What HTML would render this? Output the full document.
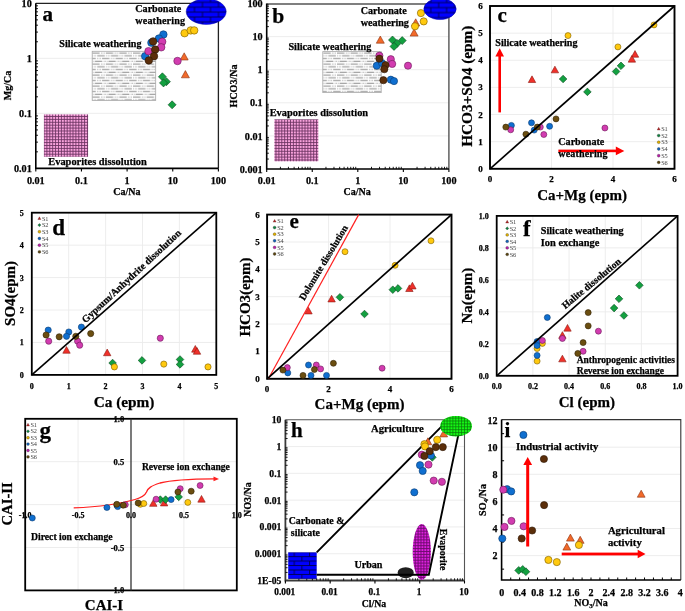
<!DOCTYPE html>
<html><head><meta charset="utf-8"><style>
html,body{margin:0;padding:0;background:#fff;}
text{stroke:#000;stroke-width:0.25px;}
svg{display:block;will-change:transform;font-family:"Liberation Serif",serif;font-weight:bold;}
</style></head><body>
<svg width="685" height="611" viewBox="0 0 685 611">

<defs>
<pattern id="pk" width="2.9" height="2.9" patternUnits="userSpaceOnUse">
 <rect width="2.9" height="2.9" fill="#f8a2dc"/>
 <rect x="0" y="0" width="2.9" height="0.85" fill="#6a3260"/>
 <rect x="0" y="0" width="0.85" height="2.9" fill="#6a3260"/>
</pattern>
<pattern id="pk2" width="2.9" height="2.9" patternUnits="userSpaceOnUse">
 <rect width="2.9" height="2.9" fill="#e020e0"/>
 <rect x="0" y="0" width="2.9" height="0.9" fill="#6a0a6a"/>
 <rect x="0" y="0" width="0.9" height="2.9" fill="#6a0a6a"/>
</pattern>
<pattern id="gn" width="2.9" height="2.9" patternUnits="userSpaceOnUse">
 <rect width="2.9" height="2.9" fill="#14f814"/>
 <rect x="0" y="0" width="2.9" height="0.75" fill="#0a7a0a"/>
 <rect x="0" y="0" width="0.75" height="2.9" fill="#0a7a0a"/>
</pattern>
<pattern id="br" x="194.5" y="7.2" width="32.00" height="9.80" patternUnits="userSpaceOnUse">
 <rect width="32.00" height="9.80" fill="#0000ff"/>
 <path d="M0 0H32.00M0 4.90H32.00M0 9.80H32.00M0 0V4.90M16.00 0V4.90M32.00 0V4.90M8.00 4.90V9.80M24.00 4.90V9.80" stroke="#00004a" stroke-width="0.9" fill="none"/>
</pattern>
<pattern id="br2" x="438.7" y="2.6" width="31.60" height="10.00" patternUnits="userSpaceOnUse">
 <rect width="31.60" height="10.00" fill="#0000ff"/>
 <path d="M0 0H31.60M0 5.00H31.60M0 10.00H31.60M0 0V5.00M15.80 0V5.00M31.60 0V5.00M7.90 5.00V10.00M23.70 5.00V10.00" stroke="#00004a" stroke-width="0.9" fill="none"/>
</pattern>
<pattern id="br3" x="294.3" y="552.2" width="30.60" height="8.90" patternUnits="userSpaceOnUse">
 <rect width="30.60" height="8.90" fill="#0000ff"/>
 <path d="M0 0H30.60M0 4.45H30.60M0 8.90H30.60M0 0V4.45M15.30 0V4.45M30.60 0V4.45M7.65 4.45V8.90M22.95 4.45V8.90" stroke="#00004a" stroke-width="0.9" fill="none"/>
</pattern>
<pattern id="dt" x="92.2" y="51.8" width="13.6" height="11.0" patternUnits="userSpaceOnUse">
 <rect width="13.6" height="11.0" fill="#fff"/>
 <path d="M0.00 1.20H7.40" stroke="#8c8c8c" stroke-width="1.0"/>
 <path d="M8.80 1.20H9.50" stroke="#8c8c8c" stroke-width="0.9"/>
 <path d="M10.30 1.20H11.00" stroke="#8c8c8c" stroke-width="0.9"/>
 <path d="M11.80 1.20H12.50" stroke="#8c8c8c" stroke-width="0.9"/>
 <path d="M5.10 3.95H12.50" stroke="#8c8c8c" stroke-width="1.0"/>
 <path d="M0.30 3.95H1.00" stroke="#8c8c8c" stroke-width="0.9"/>
 <path d="M1.80 3.95H2.50" stroke="#8c8c8c" stroke-width="0.9"/>
 <path d="M3.30 3.95H4.00" stroke="#8c8c8c" stroke-width="0.9"/>
 <path d="M9.80 6.70H13.60" stroke="#8c8c8c" stroke-width="1.0"/>
 <path d="M0.00 6.70H3.60" stroke="#8c8c8c" stroke-width="1.0"/>
 <path d="M5.00 6.70H5.70" stroke="#8c8c8c" stroke-width="0.9"/>
 <path d="M6.50 6.70H7.20" stroke="#8c8c8c" stroke-width="0.9"/>
 <path d="M8.00 6.70H8.70" stroke="#8c8c8c" stroke-width="0.9"/>
 <path d="M2.60 9.45H10.00" stroke="#8c8c8c" stroke-width="1.0"/>
 <path d="M11.40 9.45H12.10" stroke="#8c8c8c" stroke-width="0.9"/>
 <path d="M12.90 9.45H13.60" stroke="#8c8c8c" stroke-width="0.9"/>
 <path d="M0.00 9.45H0.00" stroke="#8c8c8c" stroke-width="0.9"/>
 <path d="M0.80 9.45H1.50" stroke="#8c8c8c" stroke-width="0.9"/>
</pattern>
</defs>

<rect width="685" height="611" fill="#fff"/>
<line x1="35.8" y1="58.33" x2="218.4" y2="58.33" stroke="#ebebeb" stroke-width="0.9"/>
<line x1="35.8" y1="113.37" x2="218.4" y2="113.37" stroke="#ebebeb" stroke-width="0.9"/>
<rect x="43.9" y="114.4" width="44.2" height="42.4" fill="url(#pk)" stroke="none" stroke-width="1"/>
<rect x="92.2" y="51.3" width="63.5" height="49.2" fill="url(#dt)" stroke="#a8a8a8" stroke-width="0.8"/>
<path d="M35.8 3.3H218.4V168.4" fill="none" stroke="#222" stroke-width="1.3"/>
<path d="M35.8 3.3V168.4H218.4" fill="none" stroke="#000" stroke-width="1.6"/>
<line x1="35.8" y1="151.83" x2="38" y2="151.83" stroke="#000" stroke-width="0.9"/>
<line x1="35.8" y1="142.14" x2="38" y2="142.14" stroke="#000" stroke-width="0.9"/>
<line x1="35.8" y1="135.27" x2="38" y2="135.27" stroke="#000" stroke-width="0.9"/>
<line x1="35.8" y1="129.93" x2="38" y2="129.93" stroke="#000" stroke-width="0.9"/>
<line x1="35.8" y1="125.58" x2="38" y2="125.58" stroke="#000" stroke-width="0.9"/>
<line x1="35.8" y1="121.89" x2="38" y2="121.89" stroke="#000" stroke-width="0.9"/>
<line x1="35.8" y1="118.7" x2="38" y2="118.7" stroke="#000" stroke-width="0.9"/>
<line x1="35.8" y1="115.88" x2="38" y2="115.88" stroke="#000" stroke-width="0.9"/>
<line x1="35.8" y1="96.8" x2="38" y2="96.8" stroke="#000" stroke-width="0.9"/>
<line x1="35.8" y1="87.11" x2="38" y2="87.11" stroke="#000" stroke-width="0.9"/>
<line x1="35.8" y1="80.23" x2="38" y2="80.23" stroke="#000" stroke-width="0.9"/>
<line x1="35.8" y1="74.9" x2="38" y2="74.9" stroke="#000" stroke-width="0.9"/>
<line x1="35.8" y1="70.54" x2="38" y2="70.54" stroke="#000" stroke-width="0.9"/>
<line x1="35.8" y1="66.86" x2="38" y2="66.86" stroke="#000" stroke-width="0.9"/>
<line x1="35.8" y1="63.67" x2="38" y2="63.67" stroke="#000" stroke-width="0.9"/>
<line x1="35.8" y1="60.85" x2="38" y2="60.85" stroke="#000" stroke-width="0.9"/>
<line x1="35.8" y1="41.77" x2="38" y2="41.77" stroke="#000" stroke-width="0.9"/>
<line x1="35.8" y1="32.08" x2="38" y2="32.08" stroke="#000" stroke-width="0.9"/>
<line x1="35.8" y1="25.2" x2="38" y2="25.2" stroke="#000" stroke-width="0.9"/>
<line x1="35.8" y1="19.87" x2="38" y2="19.87" stroke="#000" stroke-width="0.9"/>
<line x1="35.8" y1="15.51" x2="38" y2="15.51" stroke="#000" stroke-width="0.9"/>
<line x1="35.8" y1="11.82" x2="38" y2="11.82" stroke="#000" stroke-width="0.9"/>
<line x1="35.8" y1="8.63" x2="38" y2="8.63" stroke="#000" stroke-width="0.9"/>
<line x1="35.8" y1="5.82" x2="38" y2="5.82" stroke="#000" stroke-width="0.9"/>
<line x1="35.8" y1="168.4" x2="35.8" y2="171.4" stroke="#000" stroke-width="1.1"/>
<line x1="81.45" y1="168.4" x2="81.45" y2="171.4" stroke="#000" stroke-width="1.1"/>
<line x1="127.1" y1="168.4" x2="127.1" y2="171.4" stroke="#000" stroke-width="1.1"/>
<line x1="172.75" y1="168.4" x2="172.75" y2="171.4" stroke="#000" stroke-width="1.1"/>
<line x1="218.4" y1="168.4" x2="218.4" y2="171.4" stroke="#000" stroke-width="1.1"/>
<ellipse cx="206.2" cy="11.6" rx="20" ry="12.8" fill="url(#br)" stroke="#0000b0" stroke-width="0.5"/>
<text x="31.8" y="6.9" font-size="10.2" text-anchor="end">10</text>
<text x="31.8" y="61.93" font-size="10.2" text-anchor="end">1</text>
<text x="31.8" y="116.97" font-size="10.2" text-anchor="end">0.1</text>
<text x="31.8" y="172" font-size="10.2" text-anchor="end">0.01</text>
<text x="35.8" y="183.8" font-size="10.2" text-anchor="middle">0.01</text>
<text x="81.45" y="183.8" font-size="10.2" text-anchor="middle">0.1</text>
<text x="127.1" y="183.8" font-size="10.2" text-anchor="middle">1</text>
<text x="172.75" y="183.8" font-size="10.2" text-anchor="middle">10</text>
<text x="218.4" y="183.8" font-size="10.2" text-anchor="middle">100</text>
<text x="10.9" y="85.5" font-size="10" text-anchor="middle" transform="rotate(-90 10.9 85.5)">Mg/Ca</text>
<text x="126.8" y="195" font-size="10" text-anchor="middle">Ca/Na</text>
<text x="42.6" y="20.8" font-size="21">a</text>
<text x="135.3" y="12.4" font-size="10.1">Carbonate</text>
<text x="135.3" y="24.1" font-size="10.1" letter-spacing="0.17">weathering</text>
<text x="59.3" y="47.1" font-size="10.1">Silicate weathering</text>
<text x="48.3" y="165" font-size="10.4">Evaporites dissolution</text>
<path d="M184.2 52.8L188.2 60L180.2 60Z" fill="#f26a2a" stroke="#8a3010" stroke-width="0.6"/>
<path d="M185.4 70.6L189.4 77.8L181.4 77.8Z" fill="#f26a2a" stroke="#8a3010" stroke-width="0.6"/>
<path d="M162.4 72.8L166.4 76.8L162.4 80.8L158.4 76.8Z" fill="#13a040" stroke="#0a4a20" stroke-width="0.6"/>
<path d="M166.4 77.7L170.4 81.7L166.4 85.7L162.4 81.7Z" fill="#13a040" stroke="#0a4a20" stroke-width="0.6"/>
<path d="M163.5 78.9L167.5 82.9L163.5 86.9L159.5 82.9Z" fill="#13a040" stroke="#0a4a20" stroke-width="0.6"/>
<path d="M172.1 100.8L176.1 104.8L172.1 108.8L168.1 104.8Z" fill="#13a040" stroke="#0a4a20" stroke-width="0.6"/>
<circle cx="184.6" cy="33.2" r="3.75" fill="#ffc90e" stroke="#7a5a00" stroke-width="0.6"/>
<circle cx="190.7" cy="30.4" r="3.75" fill="#ffc90e" stroke="#7a5a00" stroke-width="0.6"/>
<circle cx="194.2" cy="30.4" r="3.75" fill="#ffc90e" stroke="#7a5a00" stroke-width="0.6"/>
<circle cx="163.4" cy="34.5" r="3.75" fill="#0f6fd0" stroke="#0a3a70" stroke-width="0.6"/>
<circle cx="158.9" cy="38.5" r="3.75" fill="#0f6fd0" stroke="#0a3a70" stroke-width="0.6"/>
<circle cx="151.4" cy="42.7" r="3.75" fill="#0f6fd0" stroke="#0a3a70" stroke-width="0.6"/>
<circle cx="145.2" cy="56.2" r="3.75" fill="#0f6fd0" stroke="#0a3a70" stroke-width="0.6"/>
<circle cx="162.2" cy="41.7" r="3.75" fill="#d23cb0" stroke="#6a1a58" stroke-width="0.6"/>
<circle cx="161.2" cy="47.3" r="3.75" fill="#d23cb0" stroke="#6a1a58" stroke-width="0.6"/>
<circle cx="148.5" cy="51.2" r="3.75" fill="#d23cb0" stroke="#6a1a58" stroke-width="0.6"/>
<circle cx="177.5" cy="61" r="3.75" fill="#d23cb0" stroke="#6a1a58" stroke-width="0.6"/>
<circle cx="153.1" cy="41.4" r="3.75" fill="#5b2e0a" stroke="#2a1505" stroke-width="0.6"/>
<circle cx="155.2" cy="49.6" r="3.75" fill="#5b2e0a" stroke="#2a1505" stroke-width="0.6"/>
<circle cx="154" cy="56.2" r="3.75" fill="#5b2e0a" stroke="#2a1505" stroke-width="0.6"/>
<circle cx="148.8" cy="60.4" r="3.75" fill="#5b2e0a" stroke="#2a1505" stroke-width="0.6"/>
<line x1="266.7" y1="36.6" x2="448.9" y2="36.6" stroke="#ebebeb" stroke-width="0.9"/>
<line x1="266.7" y1="69.7" x2="448.9" y2="69.7" stroke="#ebebeb" stroke-width="0.9"/>
<line x1="266.7" y1="102.8" x2="448.9" y2="102.8" stroke="#ebebeb" stroke-width="0.9"/>
<line x1="266.7" y1="135.9" x2="448.9" y2="135.9" stroke="#ebebeb" stroke-width="0.9"/>
<rect x="274.4" y="119.3" width="43.9" height="42" fill="url(#pk)" stroke="none" stroke-width="1"/>
<rect x="322.8" y="51.6" width="58.4" height="41" fill="url(#dt)" stroke="#a8a8a8" stroke-width="0.8"/>
<path d="M266.7 4H448.9V169.0" fill="none" stroke="#555" stroke-width="1.4"/>
<path d="M266.7 3.5V169.0H448.9" fill="none" stroke="#000" stroke-width="1.6"/>
<line x1="266.7" y1="159.04" x2="268.9" y2="159.04" stroke="#000" stroke-width="0.9"/>
<line x1="266.7" y1="153.21" x2="268.9" y2="153.21" stroke="#000" stroke-width="0.9"/>
<line x1="266.7" y1="149.07" x2="268.9" y2="149.07" stroke="#000" stroke-width="0.9"/>
<line x1="266.7" y1="145.86" x2="268.9" y2="145.86" stroke="#000" stroke-width="0.9"/>
<line x1="266.7" y1="143.24" x2="268.9" y2="143.24" stroke="#000" stroke-width="0.9"/>
<line x1="266.7" y1="141.03" x2="268.9" y2="141.03" stroke="#000" stroke-width="0.9"/>
<line x1="266.7" y1="139.11" x2="268.9" y2="139.11" stroke="#000" stroke-width="0.9"/>
<line x1="266.7" y1="137.41" x2="268.9" y2="137.41" stroke="#000" stroke-width="0.9"/>
<line x1="266.7" y1="125.94" x2="268.9" y2="125.94" stroke="#000" stroke-width="0.9"/>
<line x1="266.7" y1="120.11" x2="268.9" y2="120.11" stroke="#000" stroke-width="0.9"/>
<line x1="266.7" y1="115.97" x2="268.9" y2="115.97" stroke="#000" stroke-width="0.9"/>
<line x1="266.7" y1="112.76" x2="268.9" y2="112.76" stroke="#000" stroke-width="0.9"/>
<line x1="266.7" y1="110.14" x2="268.9" y2="110.14" stroke="#000" stroke-width="0.9"/>
<line x1="266.7" y1="107.93" x2="268.9" y2="107.93" stroke="#000" stroke-width="0.9"/>
<line x1="266.7" y1="106.01" x2="268.9" y2="106.01" stroke="#000" stroke-width="0.9"/>
<line x1="266.7" y1="104.31" x2="268.9" y2="104.31" stroke="#000" stroke-width="0.9"/>
<line x1="266.7" y1="92.84" x2="268.9" y2="92.84" stroke="#000" stroke-width="0.9"/>
<line x1="266.7" y1="87.01" x2="268.9" y2="87.01" stroke="#000" stroke-width="0.9"/>
<line x1="266.7" y1="82.87" x2="268.9" y2="82.87" stroke="#000" stroke-width="0.9"/>
<line x1="266.7" y1="79.66" x2="268.9" y2="79.66" stroke="#000" stroke-width="0.9"/>
<line x1="266.7" y1="77.04" x2="268.9" y2="77.04" stroke="#000" stroke-width="0.9"/>
<line x1="266.7" y1="74.83" x2="268.9" y2="74.83" stroke="#000" stroke-width="0.9"/>
<line x1="266.7" y1="72.91" x2="268.9" y2="72.91" stroke="#000" stroke-width="0.9"/>
<line x1="266.7" y1="71.21" x2="268.9" y2="71.21" stroke="#000" stroke-width="0.9"/>
<line x1="266.7" y1="59.74" x2="268.9" y2="59.74" stroke="#000" stroke-width="0.9"/>
<line x1="266.7" y1="53.91" x2="268.9" y2="53.91" stroke="#000" stroke-width="0.9"/>
<line x1="266.7" y1="49.77" x2="268.9" y2="49.77" stroke="#000" stroke-width="0.9"/>
<line x1="266.7" y1="46.56" x2="268.9" y2="46.56" stroke="#000" stroke-width="0.9"/>
<line x1="266.7" y1="43.94" x2="268.9" y2="43.94" stroke="#000" stroke-width="0.9"/>
<line x1="266.7" y1="41.73" x2="268.9" y2="41.73" stroke="#000" stroke-width="0.9"/>
<line x1="266.7" y1="39.81" x2="268.9" y2="39.81" stroke="#000" stroke-width="0.9"/>
<line x1="266.7" y1="38.11" x2="268.9" y2="38.11" stroke="#000" stroke-width="0.9"/>
<line x1="266.7" y1="26.64" x2="268.9" y2="26.64" stroke="#000" stroke-width="0.9"/>
<line x1="266.7" y1="20.81" x2="268.9" y2="20.81" stroke="#000" stroke-width="0.9"/>
<line x1="266.7" y1="16.67" x2="268.9" y2="16.67" stroke="#000" stroke-width="0.9"/>
<line x1="266.7" y1="13.46" x2="268.9" y2="13.46" stroke="#000" stroke-width="0.9"/>
<line x1="266.7" y1="10.84" x2="268.9" y2="10.84" stroke="#000" stroke-width="0.9"/>
<line x1="266.7" y1="8.63" x2="268.9" y2="8.63" stroke="#000" stroke-width="0.9"/>
<line x1="266.7" y1="6.71" x2="268.9" y2="6.71" stroke="#000" stroke-width="0.9"/>
<line x1="266.7" y1="5.01" x2="268.9" y2="5.01" stroke="#000" stroke-width="0.9"/>
<line x1="280.41" y1="169" x2="280.41" y2="166.8" stroke="#000" stroke-width="0.9"/>
<line x1="288.43" y1="169" x2="288.43" y2="166.8" stroke="#000" stroke-width="0.9"/>
<line x1="294.12" y1="169" x2="294.12" y2="166.8" stroke="#000" stroke-width="0.9"/>
<line x1="298.54" y1="169" x2="298.54" y2="166.8" stroke="#000" stroke-width="0.9"/>
<line x1="302.14" y1="169" x2="302.14" y2="166.8" stroke="#000" stroke-width="0.9"/>
<line x1="305.19" y1="169" x2="305.19" y2="166.8" stroke="#000" stroke-width="0.9"/>
<line x1="307.84" y1="169" x2="307.84" y2="166.8" stroke="#000" stroke-width="0.9"/>
<line x1="310.17" y1="169" x2="310.17" y2="166.8" stroke="#000" stroke-width="0.9"/>
<line x1="325.96" y1="169" x2="325.96" y2="166.8" stroke="#000" stroke-width="0.9"/>
<line x1="333.98" y1="169" x2="333.98" y2="166.8" stroke="#000" stroke-width="0.9"/>
<line x1="339.67" y1="169" x2="339.67" y2="166.8" stroke="#000" stroke-width="0.9"/>
<line x1="344.09" y1="169" x2="344.09" y2="166.8" stroke="#000" stroke-width="0.9"/>
<line x1="347.69" y1="169" x2="347.69" y2="166.8" stroke="#000" stroke-width="0.9"/>
<line x1="350.74" y1="169" x2="350.74" y2="166.8" stroke="#000" stroke-width="0.9"/>
<line x1="353.39" y1="169" x2="353.39" y2="166.8" stroke="#000" stroke-width="0.9"/>
<line x1="355.72" y1="169" x2="355.72" y2="166.8" stroke="#000" stroke-width="0.9"/>
<line x1="371.51" y1="169" x2="371.51" y2="166.8" stroke="#000" stroke-width="0.9"/>
<line x1="379.53" y1="169" x2="379.53" y2="166.8" stroke="#000" stroke-width="0.9"/>
<line x1="385.22" y1="169" x2="385.22" y2="166.8" stroke="#000" stroke-width="0.9"/>
<line x1="389.64" y1="169" x2="389.64" y2="166.8" stroke="#000" stroke-width="0.9"/>
<line x1="393.24" y1="169" x2="393.24" y2="166.8" stroke="#000" stroke-width="0.9"/>
<line x1="396.29" y1="169" x2="396.29" y2="166.8" stroke="#000" stroke-width="0.9"/>
<line x1="398.94" y1="169" x2="398.94" y2="166.8" stroke="#000" stroke-width="0.9"/>
<line x1="401.27" y1="169" x2="401.27" y2="166.8" stroke="#000" stroke-width="0.9"/>
<line x1="417.06" y1="169" x2="417.06" y2="166.8" stroke="#000" stroke-width="0.9"/>
<line x1="425.08" y1="169" x2="425.08" y2="166.8" stroke="#000" stroke-width="0.9"/>
<line x1="430.77" y1="169" x2="430.77" y2="166.8" stroke="#000" stroke-width="0.9"/>
<line x1="435.19" y1="169" x2="435.19" y2="166.8" stroke="#000" stroke-width="0.9"/>
<line x1="438.79" y1="169" x2="438.79" y2="166.8" stroke="#000" stroke-width="0.9"/>
<line x1="441.84" y1="169" x2="441.84" y2="166.8" stroke="#000" stroke-width="0.9"/>
<line x1="444.49" y1="169" x2="444.49" y2="166.8" stroke="#000" stroke-width="0.9"/>
<line x1="446.82" y1="169" x2="446.82" y2="166.8" stroke="#000" stroke-width="0.9"/>
<line x1="266.7" y1="169" x2="266.7" y2="172" stroke="#000" stroke-width="1.1"/>
<line x1="312.25" y1="169" x2="312.25" y2="172" stroke="#000" stroke-width="1.1"/>
<line x1="357.8" y1="169" x2="357.8" y2="172" stroke="#000" stroke-width="1.1"/>
<line x1="403.35" y1="169" x2="403.35" y2="172" stroke="#000" stroke-width="1.1"/>
<line x1="448.9" y1="169" x2="448.9" y2="172" stroke="#000" stroke-width="1.1"/>
<text x="262.7" y="7.1" font-size="10.2" text-anchor="end">100</text>
<text x="262.7" y="40.2" font-size="10.2" text-anchor="end">10</text>
<text x="262.7" y="73.3" font-size="10.2" text-anchor="end">1</text>
<text x="262.7" y="106.4" font-size="10.2" text-anchor="end">0.1</text>
<text x="262.7" y="139.5" font-size="10.2" text-anchor="end">0.01</text>
<text x="262.7" y="172.6" font-size="10.2" text-anchor="end">0.001</text>
<text x="266.7" y="183.8" font-size="10.2" text-anchor="middle">0.01</text>
<text x="312.25" y="183.8" font-size="10.2" text-anchor="middle">0.1</text>
<text x="357.8" y="183.8" font-size="10.2" text-anchor="middle">1</text>
<text x="403.35" y="183.8" font-size="10.2" text-anchor="middle">10</text>
<text x="448.9" y="183.8" font-size="10.2" text-anchor="middle">100</text>
<text x="236.5" y="86" font-size="10" text-anchor="middle" transform="rotate(-90 236.5 86)">HCO3/Na</text>
<text x="357.2" y="195.2" font-size="10" text-anchor="middle">Ca/Na</text>
<text x="272.2" y="22.5" font-size="21.6">b</text>
<text x="360.7" y="13.7" font-size="10.1">Carbonate</text>
<text x="360.7" y="26.3" font-size="10.1">weathering</text>
<text x="288.4" y="49.7" font-size="10.2">Silicate weathering</text>
<text x="269.7" y="115.8" font-size="10.4">Evaporites dissolution</text>
<path d="M415.7 18.8L419.7 26L411.7 26Z" fill="#f26a2a" stroke="#8a3010" stroke-width="0.6"/>
<path d="M414.1 28.9L418.1 36.1L410.1 36.1Z" fill="#f26a2a" stroke="#8a3010" stroke-width="0.6"/>
<path d="M380.3 36L384.3 43.2L376.3 43.2Z" fill="#f26a2a" stroke="#8a3010" stroke-width="0.6"/>
<path d="M392.5 36L396.5 40L392.5 44L388.5 40Z" fill="#13a040" stroke="#0a4a20" stroke-width="0.6"/>
<path d="M402.2 36.6L406.2 40.6L402.2 44.6L398.2 40.6Z" fill="#13a040" stroke="#0a4a20" stroke-width="0.6"/>
<path d="M397 39.4L401 43.4L397 47.4L393 43.4Z" fill="#13a040" stroke="#0a4a20" stroke-width="0.6"/>
<path d="M394 42.4L398 46.4L394 50.4L390 46.4Z" fill="#13a040" stroke="#0a4a20" stroke-width="0.6"/>
<circle cx="420.9" cy="13.1" r="3.6" fill="#ffc90e" stroke="#7a5a00" stroke-width="0.6"/>
<circle cx="423.7" cy="21.4" r="3.6" fill="#ffc90e" stroke="#7a5a00" stroke-width="0.6"/>
<circle cx="415" cy="26.3" r="3.6" fill="#ffc90e" stroke="#7a5a00" stroke-width="0.6"/>
<circle cx="376.8" cy="65.7" r="3.6" fill="#0f6fd0" stroke="#0a3a70" stroke-width="0.6"/>
<circle cx="382" cy="63" r="3.6" fill="#0f6fd0" stroke="#0a3a70" stroke-width="0.6"/>
<circle cx="390.8" cy="79.7" r="3.6" fill="#0f6fd0" stroke="#0a3a70" stroke-width="0.6"/>
<circle cx="394" cy="81.1" r="3.6" fill="#0f6fd0" stroke="#0a3a70" stroke-width="0.6"/>
<circle cx="379.4" cy="55.7" r="3.6" fill="#d23cb0" stroke="#6a1a58" stroke-width="0.6"/>
<circle cx="390.8" cy="59.2" r="3.6" fill="#d23cb0" stroke="#6a1a58" stroke-width="0.6"/>
<circle cx="392.2" cy="63.9" r="3.6" fill="#d23cb0" stroke="#6a1a58" stroke-width="0.6"/>
<circle cx="408" cy="65.7" r="3.6" fill="#d23cb0" stroke="#6a1a58" stroke-width="0.6"/>
<circle cx="379.4" cy="58.7" r="3.6" fill="#5b2e0a" stroke="#2a1505" stroke-width="0.6"/>
<circle cx="385.5" cy="65.1" r="3.6" fill="#5b2e0a" stroke="#2a1505" stroke-width="0.6"/>
<circle cx="384.3" cy="69.2" r="3.6" fill="#5b2e0a" stroke="#2a1505" stroke-width="0.6"/>
<circle cx="383.4" cy="80.2" r="3.6" fill="#5b2e0a" stroke="#2a1505" stroke-width="0.6"/>
<ellipse cx="440" cy="9" rx="16.2" ry="10.6" fill="url(#br2)" stroke="#0000b0" stroke-width="0.5"/>
<line x1="490" y1="141.67" x2="674.5" y2="141.67" stroke="#ebebeb" stroke-width="0.9"/>
<line x1="490" y1="114.53" x2="674.5" y2="114.53" stroke="#ebebeb" stroke-width="0.9"/>
<line x1="490" y1="87.4" x2="674.5" y2="87.4" stroke="#ebebeb" stroke-width="0.9"/>
<line x1="490" y1="60.27" x2="674.5" y2="60.27" stroke="#ebebeb" stroke-width="0.9"/>
<line x1="490" y1="33.13" x2="674.5" y2="33.13" stroke="#ebebeb" stroke-width="0.9"/>
<line x1="551.5" y1="6" x2="551.5" y2="168.8" stroke="#ebebeb" stroke-width="0.9"/>
<line x1="613" y1="6" x2="613" y2="168.8" stroke="#ebebeb" stroke-width="0.9"/>
<rect x="490" y="6" width="184.5" height="162.8" fill="none" stroke="#000" stroke-width="1.9"/>
<text x="480.4" y="171.8" font-size="9" text-anchor="middle">0</text>
<text x="480.4" y="144.67" font-size="9" text-anchor="middle">1</text>
<text x="480.4" y="117.53" font-size="9" text-anchor="middle">2</text>
<text x="480.4" y="90.4" font-size="9" text-anchor="middle">3</text>
<text x="480.4" y="63.27" font-size="9" text-anchor="middle">4</text>
<text x="480.4" y="36.13" font-size="9" text-anchor="middle">5</text>
<text x="480.4" y="9" font-size="9" text-anchor="middle">6</text>
<text x="490" y="182" font-size="9" text-anchor="middle">0</text>
<text x="551.5" y="182" font-size="9" text-anchor="middle">2</text>
<text x="613" y="182" font-size="9" text-anchor="middle">4</text>
<text x="674.5" y="182" font-size="9" text-anchor="middle">6</text>
<rect x="498.4" y="56" width="2.6" height="56.4" fill="#ff0000" stroke="none" stroke-width="1"/>
<path d="M499.7 48.2L504 56.4L495.4 56.4Z" fill="#ff0000"/>
<rect x="558.4" y="149.6" width="57.8" height="2.6" fill="#ff0000" stroke="none" stroke-width="1"/>
<path d="M624.3 150.9L615.8 146.4L615.8 155.2Z" fill="#ff0000"/>
<text x="471.9" y="86.2" font-size="15.3" text-anchor="middle" transform="rotate(-90 471.9 86.2)">HCO3+SO4 (epm)</text>
<text x="582.1" y="199.8" font-size="15" text-anchor="middle">Ca+Mg (epm)</text>
<text x="497.6" y="21.9" font-size="21">c</text>
<text x="495.3" y="45.9" font-size="10.1">Silicate weathering</text>
<text x="558.3" y="144.7" font-size="10.1">Carbonate</text>
<text x="558.3" y="156.6" font-size="10.1" letter-spacing="0.12">weathering</text>
<path d="M532 75.87L535.7 82.53L528.3 82.53Z" fill="#f0302a" stroke="#8a1a10" stroke-width="0.6"/>
<path d="M554.9 66.17L558.6 72.83L551.2 72.83Z" fill="#f0302a" stroke="#8a1a10" stroke-width="0.6"/>
<path d="M635 50.57L638.7 57.23L631.3 57.23Z" fill="#f0302a" stroke="#8a1a10" stroke-width="0.6"/>
<path d="M631.9 55.47L635.6 62.13L628.2 62.13Z" fill="#f0302a" stroke="#8a1a10" stroke-width="0.6"/>
<path d="M563.1 75.2L566.9 79L563.1 82.8L559.3 79Z" fill="#13a040" stroke="#0a4a20" stroke-width="0.6"/>
<path d="M621 62L624.8 65.8L621 69.6L617.2 65.8Z" fill="#13a040" stroke="#0a4a20" stroke-width="0.6"/>
<path d="M616.1 67.7L619.9 71.5L616.1 75.3L612.3 71.5Z" fill="#13a040" stroke="#0a4a20" stroke-width="0.6"/>
<path d="M587.4 88.1L591.2 91.9L587.4 95.7L583.6 91.9Z" fill="#13a040" stroke="#0a4a20" stroke-width="0.6"/>
<circle cx="568" cy="35.6" r="3" fill="#ffc90e" stroke="#7a5a00" stroke-width="0.6"/>
<circle cx="654" cy="24.9" r="3" fill="#ffc90e" stroke="#7a5a00" stroke-width="0.6"/>
<circle cx="617.9" cy="46.9" r="3" fill="#ffc90e" stroke="#7a5a00" stroke-width="0.6"/>
<circle cx="511.4" cy="125.4" r="3" fill="#0f6fd0" stroke="#0a3a70" stroke-width="0.6"/>
<circle cx="531.5" cy="122.8" r="3" fill="#0f6fd0" stroke="#0a3a70" stroke-width="0.6"/>
<circle cx="534.2" cy="130.1" r="3" fill="#0f6fd0" stroke="#0a3a70" stroke-width="0.6"/>
<circle cx="549.6" cy="126.3" r="3" fill="#0f6fd0" stroke="#0a3a70" stroke-width="0.6"/>
<circle cx="510.7" cy="129.8" r="3" fill="#d23cb0" stroke="#6a1a58" stroke-width="0.6"/>
<circle cx="540.3" cy="127.1" r="3" fill="#d23cb0" stroke="#6a1a58" stroke-width="0.6"/>
<circle cx="543.8" cy="134.5" r="3" fill="#d23cb0" stroke="#6a1a58" stroke-width="0.6"/>
<circle cx="604.9" cy="128" r="3" fill="#d23cb0" stroke="#6a1a58" stroke-width="0.6"/>
<circle cx="505.8" cy="127.1" r="3" fill="#6b4e10" stroke="#302205" stroke-width="0.6"/>
<circle cx="525.9" cy="134.2" r="3" fill="#6b4e10" stroke="#302205" stroke-width="0.6"/>
<circle cx="537.3" cy="127.1" r="3" fill="#6b4e10" stroke="#302205" stroke-width="0.6"/>
<circle cx="556" cy="118.9" r="3" fill="#6b4e10" stroke="#302205" stroke-width="0.6"/>
<line x1="490" y1="168.8" x2="674.5" y2="6" stroke="#000" stroke-width="1.7"/>
<path d="M658.7 127.3L660.2 130L657.2 130Z" fill="#b02828" stroke="#5a1010" stroke-width="0.3"/>
<text x="661.3" y="131" font-size="6.3" font-weight="normal" fill="#404040" style="stroke:none" letter-spacing="-0.3">S1</text>
<circle cx="658.7" cy="135.6" r="1.45" fill="#118040" stroke="#333" stroke-width="0.3"/>
<text x="661.3" y="137.7" font-size="6.3" font-weight="normal" fill="#404040" style="stroke:none" letter-spacing="-0.3">S2</text>
<circle cx="658.7" cy="142.3" r="1.45" fill="#e0b000" stroke="#333" stroke-width="0.3"/>
<text x="661.3" y="144.4" font-size="6.3" font-weight="normal" fill="#404040" style="stroke:none" letter-spacing="-0.3">S3</text>
<circle cx="658.7" cy="149" r="1.45" fill="#1060b8" stroke="#333" stroke-width="0.3"/>
<text x="661.3" y="151.1" font-size="6.3" font-weight="normal" fill="#404040" style="stroke:none" letter-spacing="-0.3">S4</text>
<circle cx="658.7" cy="155.7" r="1.45" fill="#b820a8" stroke="#333" stroke-width="0.3"/>
<text x="661.3" y="157.8" font-size="6.3" font-weight="normal" fill="#404040" style="stroke:none" letter-spacing="-0.3">S5</text>
<circle cx="658.7" cy="162.4" r="1.45" fill="#5a4410" stroke="#333" stroke-width="0.3"/>
<text x="661.3" y="164.5" font-size="6.3" font-weight="normal" fill="#404040" style="stroke:none" letter-spacing="-0.3">S6</text>
<line x1="31.8" y1="342.46" x2="216.3" y2="342.46" stroke="#ebebeb" stroke-width="0.9"/>
<line x1="68.7" y1="212.7" x2="68.7" y2="374.9" stroke="#ebebeb" stroke-width="0.9"/>
<line x1="31.8" y1="310.02" x2="216.3" y2="310.02" stroke="#ebebeb" stroke-width="0.9"/>
<line x1="105.6" y1="212.7" x2="105.6" y2="374.9" stroke="#ebebeb" stroke-width="0.9"/>
<line x1="31.8" y1="277.58" x2="216.3" y2="277.58" stroke="#ebebeb" stroke-width="0.9"/>
<line x1="142.5" y1="212.7" x2="142.5" y2="374.9" stroke="#ebebeb" stroke-width="0.9"/>
<line x1="31.8" y1="245.14" x2="216.3" y2="245.14" stroke="#ebebeb" stroke-width="0.9"/>
<line x1="179.4" y1="212.7" x2="179.4" y2="374.9" stroke="#ebebeb" stroke-width="0.9"/>
<rect x="31.8" y="212.7" width="184.5" height="162.2" fill="none" stroke="#000" stroke-width="1.8"/>
<text x="21.8" y="377.9" font-size="8" text-anchor="middle">0</text>
<text x="31.8" y="388.5" font-size="8" text-anchor="middle">0</text>
<text x="21.8" y="345.46" font-size="8" text-anchor="middle">1</text>
<text x="68.7" y="388.5" font-size="8" text-anchor="middle">1</text>
<text x="21.8" y="313.02" font-size="8" text-anchor="middle">2</text>
<text x="105.6" y="388.5" font-size="8" text-anchor="middle">2</text>
<text x="21.8" y="280.58" font-size="8" text-anchor="middle">3</text>
<text x="142.5" y="388.5" font-size="8" text-anchor="middle">3</text>
<text x="21.8" y="248.14" font-size="8" text-anchor="middle">4</text>
<text x="179.4" y="388.5" font-size="8" text-anchor="middle">4</text>
<text x="21.8" y="215.7" font-size="8" text-anchor="middle">5</text>
<text x="216.3" y="388.5" font-size="8" text-anchor="middle">5</text>
<text x="15" y="293.4" font-size="15" text-anchor="middle" transform="rotate(-90 15 293.4)">SO4(epm)</text>
<text x="124" y="406.8" font-size="15.3" text-anchor="middle">Ca (epm)</text>
<text x="52.3" y="234.7" font-size="23">d</text>
<path d="M66.5 346.57L70.2 353.23L62.8 353.23Z" fill="#f0302a" stroke="#8a1a10" stroke-width="0.6"/>
<path d="M107.2 349.07L110.9 355.73L103.5 355.73Z" fill="#f0302a" stroke="#8a1a10" stroke-width="0.6"/>
<path d="M195.3 345.47L199 352.13L191.6 352.13Z" fill="#f0302a" stroke="#8a1a10" stroke-width="0.6"/>
<path d="M197 347.57L200.7 354.23L193.3 354.23Z" fill="#f0302a" stroke="#8a1a10" stroke-width="0.6"/>
<path d="M112.6 359.2L116.4 363L112.6 366.8L108.8 363Z" fill="#13a040" stroke="#0a4a20" stroke-width="0.6"/>
<path d="M142 356.6L145.8 360.4L142 364.2L138.2 360.4Z" fill="#13a040" stroke="#0a4a20" stroke-width="0.6"/>
<path d="M180 355.7L183.8 359.5L180 363.3L176.2 359.5Z" fill="#13a040" stroke="#0a4a20" stroke-width="0.6"/>
<path d="M180 360.6L183.8 364.4L180 368.2L176.2 364.4Z" fill="#13a040" stroke="#0a4a20" stroke-width="0.6"/>
<circle cx="114.4" cy="366.9" r="3.1" fill="#ffc90e" stroke="#7a5a00" stroke-width="0.6"/>
<circle cx="163.8" cy="364.1" r="3.1" fill="#ffc90e" stroke="#7a5a00" stroke-width="0.6"/>
<circle cx="208" cy="366.9" r="3.1" fill="#ffc90e" stroke="#7a5a00" stroke-width="0.6"/>
<circle cx="48.2" cy="330.1" r="3.1" fill="#0f6fd0" stroke="#0a3a70" stroke-width="0.6"/>
<circle cx="68.8" cy="332" r="3.1" fill="#0f6fd0" stroke="#0a3a70" stroke-width="0.6"/>
<circle cx="66.5" cy="336.3" r="3.1" fill="#0f6fd0" stroke="#0a3a70" stroke-width="0.6"/>
<circle cx="81.4" cy="327.1" r="3.1" fill="#0f6fd0" stroke="#0a3a70" stroke-width="0.6"/>
<circle cx="48.7" cy="341.2" r="3.1" fill="#d23cb0" stroke="#6a1a58" stroke-width="0.6"/>
<circle cx="77.6" cy="341.2" r="3.1" fill="#d23cb0" stroke="#6a1a58" stroke-width="0.6"/>
<circle cx="79.7" cy="345.2" r="3.1" fill="#d23cb0" stroke="#6a1a58" stroke-width="0.6"/>
<circle cx="160.3" cy="338.2" r="3.1" fill="#d23cb0" stroke="#6a1a58" stroke-width="0.6"/>
<circle cx="46.1" cy="335" r="3.1" fill="#6b4e10" stroke="#302205" stroke-width="0.6"/>
<circle cx="59.2" cy="336.8" r="3.1" fill="#6b4e10" stroke="#302205" stroke-width="0.6"/>
<circle cx="75.8" cy="336.3" r="3.1" fill="#6b4e10" stroke="#302205" stroke-width="0.6"/>
<circle cx="90.7" cy="333.6" r="3.1" fill="#6b4e10" stroke="#302205" stroke-width="0.6"/>
<line x1="31.8" y1="374.9" x2="216.3" y2="212.7" stroke="#000" stroke-width="1.6"/>
<text x="0" y="0" font-size="10" transform="translate(85.6 323.4) rotate(-43)">Gypsum/Anhydrite dissolution</text>
<path d="M39.4 216.8L40.9 219.5L37.9 219.5Z" fill="#b02828" stroke="#5a1010" stroke-width="0.3"/>
<text x="42" y="220.5" font-size="6.3" font-weight="normal" fill="#404040" style="stroke:none" letter-spacing="-0.3">S1</text>
<path d="M39.4 223.5L41 225.1L39.4 226.7L37.8 225.1Z" fill="#118040" stroke="#333" stroke-width="0.3"/>
<text x="42" y="227.2" font-size="6.3" font-weight="normal" fill="#404040" style="stroke:none" letter-spacing="-0.3">S2</text>
<circle cx="39.4" cy="231.8" r="1.45" fill="#e0b000" stroke="#333" stroke-width="0.3"/>
<text x="42" y="233.9" font-size="6.3" font-weight="normal" fill="#404040" style="stroke:none" letter-spacing="-0.3">S3</text>
<circle cx="39.4" cy="238.5" r="1.45" fill="#1060b8" stroke="#333" stroke-width="0.3"/>
<text x="42" y="240.6" font-size="6.3" font-weight="normal" fill="#404040" style="stroke:none" letter-spacing="-0.3">S4</text>
<circle cx="39.4" cy="245.2" r="1.45" fill="#b820a8" stroke="#333" stroke-width="0.3"/>
<text x="42" y="247.3" font-size="6.3" font-weight="normal" fill="#404040" style="stroke:none" letter-spacing="-0.3">S5</text>
<circle cx="39.4" cy="251.9" r="1.45" fill="#5a4410" stroke="#333" stroke-width="0.3"/>
<text x="42" y="254" font-size="6.3" font-weight="normal" fill="#404040" style="stroke:none" letter-spacing="-0.3">S6</text>
<line x1="267.1" y1="351.43" x2="451.5" y2="351.43" stroke="#ebebeb" stroke-width="0.9"/>
<line x1="267.1" y1="324.07" x2="451.5" y2="324.07" stroke="#ebebeb" stroke-width="0.9"/>
<line x1="267.1" y1="296.7" x2="451.5" y2="296.7" stroke="#ebebeb" stroke-width="0.9"/>
<line x1="267.1" y1="269.33" x2="451.5" y2="269.33" stroke="#ebebeb" stroke-width="0.9"/>
<line x1="267.1" y1="241.97" x2="451.5" y2="241.97" stroke="#ebebeb" stroke-width="0.9"/>
<line x1="328.57" y1="214.6" x2="328.57" y2="378.8" stroke="#ebebeb" stroke-width="0.9"/>
<line x1="390.03" y1="214.6" x2="390.03" y2="378.8" stroke="#ebebeb" stroke-width="0.9"/>
<rect x="267.1" y="214.6" width="184.4" height="164.2" fill="none" stroke="#000" stroke-width="1.9"/>
<text x="257.5" y="381.8" font-size="9" text-anchor="middle">0</text>
<text x="257.5" y="354.43" font-size="9" text-anchor="middle">1</text>
<text x="257.5" y="327.07" font-size="9" text-anchor="middle">2</text>
<text x="257.5" y="299.7" font-size="9" text-anchor="middle">3</text>
<text x="257.5" y="272.33" font-size="9" text-anchor="middle">4</text>
<text x="257.5" y="244.97" font-size="9" text-anchor="middle">5</text>
<text x="257.5" y="217.6" font-size="9" text-anchor="middle">6</text>
<text x="267.1" y="392" font-size="9" text-anchor="middle">0</text>
<text x="328.57" y="392" font-size="9" text-anchor="middle">2</text>
<text x="390.03" y="392" font-size="9" text-anchor="middle">4</text>
<text x="451.5" y="392" font-size="9" text-anchor="middle">6</text>
<text x="250.4" y="297" font-size="15" text-anchor="middle" transform="rotate(-90 250.4 297)">HCO3(epm)</text>
<text x="359.5" y="409.2" font-size="15" text-anchor="middle">Ca+Mg (epm)</text>
<text x="289.6" y="228" font-size="21">e</text>
<path d="M308.5 307.27L312.2 313.93L304.8 313.93Z" fill="#f0302a" stroke="#8a1a10" stroke-width="0.6"/>
<path d="M331.6 295.27L335.3 301.93L327.9 301.93Z" fill="#f0302a" stroke="#8a1a10" stroke-width="0.6"/>
<path d="M409.4 284.87L413.1 291.53L405.7 291.53Z" fill="#f0302a" stroke="#8a1a10" stroke-width="0.6"/>
<path d="M412.4 282.27L416.1 288.93L408.7 288.93Z" fill="#f0302a" stroke="#8a1a10" stroke-width="0.6"/>
<path d="M339.9 293.5L343.7 297.3L339.9 301.1L336.1 297.3Z" fill="#13a040" stroke="#0a4a20" stroke-width="0.6"/>
<path d="M364.5 310.2L368.3 314L364.5 317.8L360.7 314Z" fill="#13a040" stroke="#0a4a20" stroke-width="0.6"/>
<path d="M392.8 285.9L396.6 289.7L392.8 293.5L389 289.7Z" fill="#13a040" stroke="#0a4a20" stroke-width="0.6"/>
<path d="M398 284.6L401.8 288.4L398 292.2L394.2 288.4Z" fill="#13a040" stroke="#0a4a20" stroke-width="0.6"/>
<circle cx="345" cy="251.7" r="3" fill="#ffc90e" stroke="#7a5a00" stroke-width="0.6"/>
<circle cx="395.1" cy="265.3" r="3" fill="#ffc90e" stroke="#7a5a00" stroke-width="0.6"/>
<circle cx="431" cy="240.8" r="3" fill="#ffc90e" stroke="#7a5a00" stroke-width="0.6"/>
<circle cx="287.8" cy="372.9" r="3" fill="#0f6fd0" stroke="#0a3a70" stroke-width="0.6"/>
<circle cx="308.5" cy="365" r="3" fill="#0f6fd0" stroke="#0a3a70" stroke-width="0.6"/>
<circle cx="311" cy="375.4" r="3" fill="#0f6fd0" stroke="#0a3a70" stroke-width="0.6"/>
<circle cx="326.5" cy="375.4" r="3" fill="#0f6fd0" stroke="#0a3a70" stroke-width="0.6"/>
<circle cx="287.3" cy="367.6" r="3" fill="#d23cb0" stroke="#6a1a58" stroke-width="0.6"/>
<circle cx="316.3" cy="365" r="3" fill="#d23cb0" stroke="#6a1a58" stroke-width="0.6"/>
<circle cx="320.6" cy="368.9" r="3" fill="#d23cb0" stroke="#6a1a58" stroke-width="0.6"/>
<circle cx="382.1" cy="368.2" r="3" fill="#d23cb0" stroke="#6a1a58" stroke-width="0.6"/>
<circle cx="282.9" cy="370.1" r="3" fill="#6b4e10" stroke="#302205" stroke-width="0.6"/>
<circle cx="303" cy="375.4" r="3" fill="#6b4e10" stroke="#302205" stroke-width="0.6"/>
<circle cx="314.4" cy="369.5" r="3" fill="#6b4e10" stroke="#302205" stroke-width="0.6"/>
<circle cx="333.4" cy="363.3" r="3" fill="#6b4e10" stroke="#302205" stroke-width="0.6"/>
<line x1="268.4" y1="378.8" x2="358.7" y2="214.6" stroke="#ff2020" stroke-width="1.2"/>
<line x1="267.1" y1="378.8" x2="451.5" y2="214.6" stroke="#000" stroke-width="1.7"/>
<text x="0" y="0" font-size="9.8" transform="translate(304.2 301) rotate(-59)">Dolomite dissolution</text>
<path d="M274.6 219.4L276.1 222.1L273.1 222.1Z" fill="#b02828" stroke="#5a1010" stroke-width="0.3"/>
<text x="277.2" y="223.1" font-size="6.3" font-weight="normal" fill="#404040" style="stroke:none" letter-spacing="-0.3">S1</text>
<circle cx="274.6" cy="227.6" r="1.45" fill="#118040" stroke="#333" stroke-width="0.3"/>
<text x="277.2" y="229.7" font-size="6.3" font-weight="normal" fill="#404040" style="stroke:none" letter-spacing="-0.3">S2</text>
<circle cx="274.6" cy="234.2" r="1.45" fill="#e0b000" stroke="#333" stroke-width="0.3"/>
<text x="277.2" y="236.3" font-size="6.3" font-weight="normal" fill="#404040" style="stroke:none" letter-spacing="-0.3">S3</text>
<circle cx="274.6" cy="240.8" r="1.45" fill="#1060b8" stroke="#333" stroke-width="0.3"/>
<text x="277.2" y="242.9" font-size="6.3" font-weight="normal" fill="#404040" style="stroke:none" letter-spacing="-0.3">S4</text>
<circle cx="274.6" cy="247.4" r="1.45" fill="#b820a8" stroke="#333" stroke-width="0.3"/>
<text x="277.2" y="249.5" font-size="6.3" font-weight="normal" fill="#404040" style="stroke:none" letter-spacing="-0.3">S5</text>
<circle cx="274.6" cy="254" r="1.45" fill="#5a4410" stroke="#333" stroke-width="0.3"/>
<text x="277.2" y="256.1" font-size="6.3" font-weight="normal" fill="#404040" style="stroke:none" letter-spacing="-0.3">S6</text>
<line x1="496.7" y1="343.82" x2="677.6" y2="343.82" stroke="#ebebeb" stroke-width="0.9"/>
<line x1="532.88" y1="215.9" x2="532.88" y2="375.8" stroke="#ebebeb" stroke-width="0.9"/>
<line x1="496.7" y1="311.84" x2="677.6" y2="311.84" stroke="#ebebeb" stroke-width="0.9"/>
<line x1="569.06" y1="215.9" x2="569.06" y2="375.8" stroke="#ebebeb" stroke-width="0.9"/>
<line x1="496.7" y1="279.86" x2="677.6" y2="279.86" stroke="#ebebeb" stroke-width="0.9"/>
<line x1="605.24" y1="215.9" x2="605.24" y2="375.8" stroke="#ebebeb" stroke-width="0.9"/>
<line x1="496.7" y1="247.88" x2="677.6" y2="247.88" stroke="#ebebeb" stroke-width="0.9"/>
<line x1="641.42" y1="215.9" x2="641.42" y2="375.8" stroke="#ebebeb" stroke-width="0.9"/>
<rect x="496.7" y="215.9" width="180.9" height="159.9" fill="none" stroke="#000" stroke-width="1.8"/>
<text x="488.7" y="378.8" font-size="8" text-anchor="end">0.0</text>
<text x="496.7" y="389" font-size="8" text-anchor="middle">0.0</text>
<text x="488.7" y="346.82" font-size="8" text-anchor="end">0.2</text>
<text x="532.88" y="389" font-size="8" text-anchor="middle">0.2</text>
<text x="488.7" y="314.84" font-size="8" text-anchor="end">0.4</text>
<text x="569.06" y="389" font-size="8" text-anchor="middle">0.4</text>
<text x="488.7" y="282.86" font-size="8" text-anchor="end">0.6</text>
<text x="605.24" y="389" font-size="8" text-anchor="middle">0.6</text>
<text x="488.7" y="250.88" font-size="8" text-anchor="end">0.8</text>
<text x="641.42" y="389" font-size="8" text-anchor="middle">0.8</text>
<text x="488.7" y="218.9" font-size="8" text-anchor="end">1.0</text>
<text x="677.6" y="389" font-size="8" text-anchor="middle">1.0</text>
<text x="472.5" y="295.6" font-size="15" text-anchor="middle" transform="rotate(-90 472.5 295.6)">Na(epm)</text>
<text x="586.9" y="407" font-size="15" text-anchor="middle">Cl (epm)</text>
<text x="522.9" y="235.9" font-size="23">f</text>
<text x="540.8" y="233.9" font-size="10.2">Silicate weathering</text>
<text x="540.8" y="246.3" font-size="10.4">Ion exchange</text>
<text x="576.8" y="362.6" font-size="9.45">Anthropogenic activities</text>
<text x="576.8" y="373.5" font-size="9.5">Reverse ion exchange</text>
<path d="M567.5 324.47L571.2 331.13L563.8 331.13Z" fill="#f0302a" stroke="#8a1a10" stroke-width="0.6"/>
<path d="M562.4 331.67L566.1 338.33L558.7 338.33Z" fill="#f0302a" stroke="#8a1a10" stroke-width="0.6"/>
<path d="M562.4 355.17L566.1 361.83L558.7 361.83Z" fill="#f0302a" stroke="#8a1a10" stroke-width="0.6"/>
<path d="M619 295L622.8 298.8L619 302.6L615.2 298.8Z" fill="#13a040" stroke="#0a4a20" stroke-width="0.6"/>
<path d="M614.1 304.3L617.9 308.1L614.1 311.9L610.3 308.1Z" fill="#13a040" stroke="#0a4a20" stroke-width="0.6"/>
<path d="M623.9 311.7L627.7 315.5L623.9 319.3L620.1 315.5Z" fill="#13a040" stroke="#0a4a20" stroke-width="0.6"/>
<path d="M639.4 281.5L643.2 285.3L639.4 289.1L635.6 285.3Z" fill="#13a040" stroke="#0a4a20" stroke-width="0.6"/>
<circle cx="537.1" cy="348.5" r="3" fill="#ffc90e" stroke="#7a5a00" stroke-width="0.6"/>
<circle cx="542.4" cy="343.4" r="3" fill="#ffc90e" stroke="#7a5a00" stroke-width="0.6"/>
<circle cx="537.1" cy="361.1" r="3" fill="#ffc90e" stroke="#7a5a00" stroke-width="0.6"/>
<circle cx="547.3" cy="317.5" r="3" fill="#0f6fd0" stroke="#0a3a70" stroke-width="0.6"/>
<circle cx="537.1" cy="341.5" r="3" fill="#0f6fd0" stroke="#0a3a70" stroke-width="0.6"/>
<circle cx="537.1" cy="345.6" r="3" fill="#0f6fd0" stroke="#0a3a70" stroke-width="0.6"/>
<circle cx="537.1" cy="355.4" r="3" fill="#0f6fd0" stroke="#0a3a70" stroke-width="0.6"/>
<circle cx="542.4" cy="340.5" r="3" fill="#d23cb0" stroke="#6a1a58" stroke-width="0.6"/>
<circle cx="562.4" cy="338.5" r="3" fill="#d23cb0" stroke="#6a1a58" stroke-width="0.6"/>
<circle cx="598.4" cy="331.2" r="3" fill="#d23cb0" stroke="#6a1a58" stroke-width="0.6"/>
<circle cx="583.1" cy="351.3" r="3" fill="#d23cb0" stroke="#6a1a58" stroke-width="0.6"/>
<circle cx="588.2" cy="312.6" r="3" fill="#6b4e10" stroke="#302205" stroke-width="0.6"/>
<circle cx="588.2" cy="325.9" r="3" fill="#6b4e10" stroke="#302205" stroke-width="0.6"/>
<circle cx="583.1" cy="342.6" r="3" fill="#6b4e10" stroke="#302205" stroke-width="0.6"/>
<circle cx="577.8" cy="353.4" r="3" fill="#6b4e10" stroke="#302205" stroke-width="0.6"/>
<line x1="496.7" y1="375.8" x2="677.6" y2="215.9" stroke="#000" stroke-width="1.6"/>
<text x="0" y="0" font-size="9.8" transform="translate(565.2 309.3) rotate(-39.6)">Halite dissolution</text>
<path d="M507.2 220.3L508.7 223L505.7 223Z" fill="#b02828" stroke="#5a1010" stroke-width="0.3"/>
<text x="509.8" y="224" font-size="6.3" font-weight="normal" fill="#404040" style="stroke:none" letter-spacing="-0.3">S1</text>
<path d="M507.2 226.8L508.8 228.4L507.2 230L505.6 228.4Z" fill="#118040" stroke="#333" stroke-width="0.3"/>
<text x="509.8" y="230.5" font-size="6.3" font-weight="normal" fill="#404040" style="stroke:none" letter-spacing="-0.3">S2</text>
<circle cx="507.2" cy="234.9" r="1.45" fill="#e0b000" stroke="#333" stroke-width="0.3"/>
<text x="509.8" y="237" font-size="6.3" font-weight="normal" fill="#404040" style="stroke:none" letter-spacing="-0.3">S3</text>
<circle cx="507.2" cy="241.4" r="1.45" fill="#1060b8" stroke="#333" stroke-width="0.3"/>
<text x="509.8" y="243.5" font-size="6.3" font-weight="normal" fill="#404040" style="stroke:none" letter-spacing="-0.3">S4</text>
<circle cx="507.2" cy="247.9" r="1.45" fill="#b820a8" stroke="#333" stroke-width="0.3"/>
<text x="509.8" y="250" font-size="6.3" font-weight="normal" fill="#404040" style="stroke:none" letter-spacing="-0.3">S5</text>
<circle cx="507.2" cy="254.4" r="1.45" fill="#5a4410" stroke="#333" stroke-width="0.3"/>
<text x="509.8" y="256.5" font-size="6.3" font-weight="normal" fill="#404040" style="stroke:none" letter-spacing="-0.3">S6</text>
<line x1="25.2" y1="547.5" x2="236.8" y2="547.5" stroke="#ebebeb" stroke-width="0.9"/>
<line x1="78.1" y1="418.8" x2="78.1" y2="590.4" stroke="#ebebeb" stroke-width="0.9"/>
<line x1="25.2" y1="461.7" x2="236.8" y2="461.7" stroke="#ebebeb" stroke-width="0.9"/>
<line x1="183.9" y1="418.8" x2="183.9" y2="590.4" stroke="#ebebeb" stroke-width="0.9"/>
<line x1="25.2" y1="504.6" x2="236.8" y2="504.6" stroke="#ebebeb" stroke-width="0.9"/>
<rect x="25.2" y="418.8" width="211.6" height="171.6" fill="none" stroke="#000" stroke-width="1.8"/>
<line x1="131" y1="418.8" x2="131" y2="590.4" stroke="#333" stroke-width="1.3"/>
<text x="124.3" y="421.8" font-size="8.6" text-anchor="end">1.0</text>
<text x="124.3" y="464.7" font-size="8.6" text-anchor="end">0.5</text>
<text x="124.3" y="507.6" font-size="8.6" text-anchor="end">0.0</text>
<text x="124.3" y="550.5" font-size="8.6" text-anchor="end">-0.5</text>
<text x="124.3" y="593.4" font-size="8.6" text-anchor="end">-1.0</text>
<text x="25.2" y="518" font-size="8" text-anchor="middle">-1.0</text>
<text x="78.1" y="518" font-size="8" text-anchor="middle">-0.5</text>
<text x="131" y="518" font-size="8" text-anchor="middle">0.0</text>
<text x="183.9" y="518" font-size="8" text-anchor="middle">0.5</text>
<text x="236.8" y="518" font-size="8" text-anchor="middle">1.0</text>
<text x="12" y="503.9" font-size="14.7" text-anchor="middle" transform="rotate(-90 12 503.9)">CAI-II</text>
<text x="104" y="609.5" font-size="15" text-anchor="middle">CAI-I</text>
<text x="39.6" y="438" font-size="23">g</text>
<text x="141.9" y="470" font-size="9.6">Reverse ion exchange</text>
<text x="31" y="540.3" font-size="9.7">Direct ion exchange</text>
<path d="M73.7 507.9C95 507 120 504 135 499.5C142 497.5 145 495.5 146.5 492C148 488 151 486 160 483C172 480 195 479 214 478.9" fill="none" stroke="#ff2020" stroke-width="1.3"/>
<path d="M219 478.9L213.5 476.6L213.5 481.2Z" fill="#ff2020"/>
<path d="M153.3 499.67L157 506.33L149.6 506.33Z" fill="#f0302a" stroke="#8a1a10" stroke-width="0.6"/>
<path d="M164.1 499.27L167.8 505.93L160.4 505.93Z" fill="#f0302a" stroke="#8a1a10" stroke-width="0.6"/>
<path d="M201.5 495.47L205.2 502.13L197.8 502.13Z" fill="#f0302a" stroke="#8a1a10" stroke-width="0.6"/>
<path d="M160.3 495.8L164.1 499.6L160.3 503.4L156.5 499.6Z" fill="#13a040" stroke="#0a4a20" stroke-width="0.6"/>
<path d="M165.6 495.8L169.4 499.6L165.6 503.4L161.8 499.6Z" fill="#13a040" stroke="#0a4a20" stroke-width="0.6"/>
<path d="M178.7 493.1L182.5 496.9L178.7 500.7L174.9 496.9Z" fill="#13a040" stroke="#0a4a20" stroke-width="0.6"/>
<circle cx="140.4" cy="504.3" r="3" fill="#ffc90e" stroke="#7a5a00" stroke-width="0.6"/>
<circle cx="143.8" cy="503.5" r="3" fill="#ffc90e" stroke="#7a5a00" stroke-width="0.6"/>
<circle cx="187.8" cy="502.4" r="3" fill="#ffc90e" stroke="#7a5a00" stroke-width="0.6"/>
<circle cx="32.3" cy="518" r="3" fill="#0f6fd0" stroke="#0a3a70" stroke-width="0.6"/>
<circle cx="106.9" cy="507.5" r="3" fill="#0f6fd0" stroke="#0a3a70" stroke-width="0.6"/>
<circle cx="117.7" cy="506.6" r="3" fill="#0f6fd0" stroke="#0a3a70" stroke-width="0.6"/>
<circle cx="171.1" cy="499.6" r="3" fill="#0f6fd0" stroke="#0a3a70" stroke-width="0.6"/>
<circle cx="125.3" cy="504.7" r="3" fill="#d23cb0" stroke="#6a1a58" stroke-width="0.6"/>
<circle cx="156.1" cy="499.2" r="3" fill="#d23cb0" stroke="#6a1a58" stroke-width="0.6"/>
<circle cx="180.2" cy="488.7" r="3" fill="#d23cb0" stroke="#6a1a58" stroke-width="0.6"/>
<circle cx="200.1" cy="485.5" r="3" fill="#d23cb0" stroke="#6a1a58" stroke-width="0.6"/>
<circle cx="116.8" cy="504.3" r="3" fill="#6b4e10" stroke="#302205" stroke-width="0.6"/>
<circle cx="123.4" cy="505.2" r="3" fill="#6b4e10" stroke="#302205" stroke-width="0.6"/>
<circle cx="138.1" cy="503" r="3" fill="#6b4e10" stroke="#302205" stroke-width="0.6"/>
<circle cx="177.9" cy="492" r="3" fill="#6b4e10" stroke="#302205" stroke-width="0.6"/>
<circle cx="191.2" cy="491.2" r="3" fill="#6b4e10" stroke="#302205" stroke-width="0.6"/>
<path d="M28 423.3L29.5 426L26.5 426Z" fill="#b02828" stroke="#5a1010" stroke-width="0.3"/>
<text x="30.6" y="427" font-size="6.3" font-weight="normal" fill="#404040" style="stroke:none" letter-spacing="-0.3">S1</text>
<path d="M28 429.7L29.6 431.3L28 432.9L26.4 431.3Z" fill="#118040" stroke="#333" stroke-width="0.3"/>
<text x="30.6" y="433.4" font-size="6.3" font-weight="normal" fill="#404040" style="stroke:none" letter-spacing="-0.3">S2</text>
<circle cx="28" cy="437.7" r="1.45" fill="#e0b000" stroke="#333" stroke-width="0.3"/>
<text x="30.6" y="439.8" font-size="6.3" font-weight="normal" fill="#404040" style="stroke:none" letter-spacing="-0.3">S3</text>
<circle cx="28" cy="444.1" r="1.45" fill="#1060b8" stroke="#333" stroke-width="0.3"/>
<text x="30.6" y="446.2" font-size="6.3" font-weight="normal" fill="#404040" style="stroke:none" letter-spacing="-0.3">S4</text>
<circle cx="28" cy="450.5" r="1.45" fill="#b820a8" stroke="#333" stroke-width="0.3"/>
<text x="30.6" y="452.6" font-size="6.3" font-weight="normal" fill="#404040" style="stroke:none" letter-spacing="-0.3">S5</text>
<circle cx="28" cy="456.9" r="1.45" fill="#5a4410" stroke="#333" stroke-width="0.3"/>
<text x="30.6" y="459" font-size="6.3" font-weight="normal" fill="#404040" style="stroke:none" letter-spacing="-0.3">S6</text>
<line x1="285.4" y1="553.72" x2="464.5" y2="553.72" stroke="#ebebeb" stroke-width="0.9"/>
<line x1="285.4" y1="526.93" x2="464.5" y2="526.93" stroke="#ebebeb" stroke-width="0.9"/>
<line x1="285.4" y1="500.15" x2="464.5" y2="500.15" stroke="#ebebeb" stroke-width="0.9"/>
<line x1="285.4" y1="473.37" x2="464.5" y2="473.37" stroke="#ebebeb" stroke-width="0.9"/>
<line x1="285.4" y1="446.58" x2="464.5" y2="446.58" stroke="#ebebeb" stroke-width="0.9"/>
<path d="M285.4 419.8H464.5V580.5" fill="none" stroke="#555" stroke-width="1.1"/>
<path d="M285.4 419.8V580.5H464.5" fill="none" stroke="#3a3a3a" stroke-width="1.8"/>
<line x1="285.4" y1="572.44" x2="287.6" y2="572.44" stroke="#000" stroke-width="0.9"/>
<line x1="285.4" y1="567.72" x2="287.6" y2="567.72" stroke="#000" stroke-width="0.9"/>
<line x1="285.4" y1="564.37" x2="287.6" y2="564.37" stroke="#000" stroke-width="0.9"/>
<line x1="285.4" y1="561.78" x2="287.6" y2="561.78" stroke="#000" stroke-width="0.9"/>
<line x1="285.4" y1="559.66" x2="287.6" y2="559.66" stroke="#000" stroke-width="0.9"/>
<line x1="285.4" y1="557.87" x2="287.6" y2="557.87" stroke="#000" stroke-width="0.9"/>
<line x1="285.4" y1="556.31" x2="287.6" y2="556.31" stroke="#000" stroke-width="0.9"/>
<line x1="285.4" y1="554.94" x2="287.6" y2="554.94" stroke="#000" stroke-width="0.9"/>
<line x1="285.4" y1="545.65" x2="287.6" y2="545.65" stroke="#000" stroke-width="0.9"/>
<line x1="285.4" y1="540.94" x2="287.6" y2="540.94" stroke="#000" stroke-width="0.9"/>
<line x1="285.4" y1="537.59" x2="287.6" y2="537.59" stroke="#000" stroke-width="0.9"/>
<line x1="285.4" y1="535" x2="287.6" y2="535" stroke="#000" stroke-width="0.9"/>
<line x1="285.4" y1="532.88" x2="287.6" y2="532.88" stroke="#000" stroke-width="0.9"/>
<line x1="285.4" y1="531.08" x2="287.6" y2="531.08" stroke="#000" stroke-width="0.9"/>
<line x1="285.4" y1="529.53" x2="287.6" y2="529.53" stroke="#000" stroke-width="0.9"/>
<line x1="285.4" y1="528.16" x2="287.6" y2="528.16" stroke="#000" stroke-width="0.9"/>
<line x1="285.4" y1="518.87" x2="287.6" y2="518.87" stroke="#000" stroke-width="0.9"/>
<line x1="285.4" y1="514.15" x2="287.6" y2="514.15" stroke="#000" stroke-width="0.9"/>
<line x1="285.4" y1="510.81" x2="287.6" y2="510.81" stroke="#000" stroke-width="0.9"/>
<line x1="285.4" y1="508.21" x2="287.6" y2="508.21" stroke="#000" stroke-width="0.9"/>
<line x1="285.4" y1="506.09" x2="287.6" y2="506.09" stroke="#000" stroke-width="0.9"/>
<line x1="285.4" y1="504.3" x2="287.6" y2="504.3" stroke="#000" stroke-width="0.9"/>
<line x1="285.4" y1="502.75" x2="287.6" y2="502.75" stroke="#000" stroke-width="0.9"/>
<line x1="285.4" y1="501.38" x2="287.6" y2="501.38" stroke="#000" stroke-width="0.9"/>
<line x1="285.4" y1="492.09" x2="287.6" y2="492.09" stroke="#000" stroke-width="0.9"/>
<line x1="285.4" y1="487.37" x2="287.6" y2="487.37" stroke="#000" stroke-width="0.9"/>
<line x1="285.4" y1="484.02" x2="287.6" y2="484.02" stroke="#000" stroke-width="0.9"/>
<line x1="285.4" y1="481.43" x2="287.6" y2="481.43" stroke="#000" stroke-width="0.9"/>
<line x1="285.4" y1="479.31" x2="287.6" y2="479.31" stroke="#000" stroke-width="0.9"/>
<line x1="285.4" y1="477.52" x2="287.6" y2="477.52" stroke="#000" stroke-width="0.9"/>
<line x1="285.4" y1="475.96" x2="287.6" y2="475.96" stroke="#000" stroke-width="0.9"/>
<line x1="285.4" y1="474.59" x2="287.6" y2="474.59" stroke="#000" stroke-width="0.9"/>
<line x1="285.4" y1="465.3" x2="287.6" y2="465.3" stroke="#000" stroke-width="0.9"/>
<line x1="285.4" y1="460.59" x2="287.6" y2="460.59" stroke="#000" stroke-width="0.9"/>
<line x1="285.4" y1="457.24" x2="287.6" y2="457.24" stroke="#000" stroke-width="0.9"/>
<line x1="285.4" y1="454.65" x2="287.6" y2="454.65" stroke="#000" stroke-width="0.9"/>
<line x1="285.4" y1="452.53" x2="287.6" y2="452.53" stroke="#000" stroke-width="0.9"/>
<line x1="285.4" y1="450.73" x2="287.6" y2="450.73" stroke="#000" stroke-width="0.9"/>
<line x1="285.4" y1="449.18" x2="287.6" y2="449.18" stroke="#000" stroke-width="0.9"/>
<line x1="285.4" y1="447.81" x2="287.6" y2="447.81" stroke="#000" stroke-width="0.9"/>
<line x1="285.4" y1="438.52" x2="287.6" y2="438.52" stroke="#000" stroke-width="0.9"/>
<line x1="285.4" y1="433.8" x2="287.6" y2="433.8" stroke="#000" stroke-width="0.9"/>
<line x1="285.4" y1="430.46" x2="287.6" y2="430.46" stroke="#000" stroke-width="0.9"/>
<line x1="285.4" y1="427.86" x2="287.6" y2="427.86" stroke="#000" stroke-width="0.9"/>
<line x1="285.4" y1="425.74" x2="287.6" y2="425.74" stroke="#000" stroke-width="0.9"/>
<line x1="285.4" y1="423.95" x2="287.6" y2="423.95" stroke="#000" stroke-width="0.9"/>
<line x1="285.4" y1="422.4" x2="287.6" y2="422.4" stroke="#000" stroke-width="0.9"/>
<line x1="285.4" y1="421.03" x2="287.6" y2="421.03" stroke="#000" stroke-width="0.9"/>
<line x1="298.88" y1="580.5" x2="298.88" y2="578.3" stroke="#000" stroke-width="0.9"/>
<line x1="306.76" y1="580.5" x2="306.76" y2="578.3" stroke="#000" stroke-width="0.9"/>
<line x1="312.36" y1="580.5" x2="312.36" y2="578.3" stroke="#000" stroke-width="0.9"/>
<line x1="316.7" y1="580.5" x2="316.7" y2="578.3" stroke="#000" stroke-width="0.9"/>
<line x1="320.24" y1="580.5" x2="320.24" y2="578.3" stroke="#000" stroke-width="0.9"/>
<line x1="323.24" y1="580.5" x2="323.24" y2="578.3" stroke="#000" stroke-width="0.9"/>
<line x1="325.84" y1="580.5" x2="325.84" y2="578.3" stroke="#000" stroke-width="0.9"/>
<line x1="328.13" y1="580.5" x2="328.13" y2="578.3" stroke="#000" stroke-width="0.9"/>
<line x1="343.65" y1="580.5" x2="343.65" y2="578.3" stroke="#000" stroke-width="0.9"/>
<line x1="351.54" y1="580.5" x2="351.54" y2="578.3" stroke="#000" stroke-width="0.9"/>
<line x1="357.13" y1="580.5" x2="357.13" y2="578.3" stroke="#000" stroke-width="0.9"/>
<line x1="361.47" y1="580.5" x2="361.47" y2="578.3" stroke="#000" stroke-width="0.9"/>
<line x1="365.02" y1="580.5" x2="365.02" y2="578.3" stroke="#000" stroke-width="0.9"/>
<line x1="368.01" y1="580.5" x2="368.01" y2="578.3" stroke="#000" stroke-width="0.9"/>
<line x1="370.61" y1="580.5" x2="370.61" y2="578.3" stroke="#000" stroke-width="0.9"/>
<line x1="372.9" y1="580.5" x2="372.9" y2="578.3" stroke="#000" stroke-width="0.9"/>
<line x1="388.43" y1="580.5" x2="388.43" y2="578.3" stroke="#000" stroke-width="0.9"/>
<line x1="396.31" y1="580.5" x2="396.31" y2="578.3" stroke="#000" stroke-width="0.9"/>
<line x1="401.91" y1="580.5" x2="401.91" y2="578.3" stroke="#000" stroke-width="0.9"/>
<line x1="406.25" y1="580.5" x2="406.25" y2="578.3" stroke="#000" stroke-width="0.9"/>
<line x1="409.79" y1="580.5" x2="409.79" y2="578.3" stroke="#000" stroke-width="0.9"/>
<line x1="412.79" y1="580.5" x2="412.79" y2="578.3" stroke="#000" stroke-width="0.9"/>
<line x1="415.39" y1="580.5" x2="415.39" y2="578.3" stroke="#000" stroke-width="0.9"/>
<line x1="417.68" y1="580.5" x2="417.68" y2="578.3" stroke="#000" stroke-width="0.9"/>
<line x1="433.2" y1="580.5" x2="433.2" y2="578.3" stroke="#000" stroke-width="0.9"/>
<line x1="441.09" y1="580.5" x2="441.09" y2="578.3" stroke="#000" stroke-width="0.9"/>
<line x1="446.68" y1="580.5" x2="446.68" y2="578.3" stroke="#000" stroke-width="0.9"/>
<line x1="451.02" y1="580.5" x2="451.02" y2="578.3" stroke="#000" stroke-width="0.9"/>
<line x1="454.57" y1="580.5" x2="454.57" y2="578.3" stroke="#000" stroke-width="0.9"/>
<line x1="457.56" y1="580.5" x2="457.56" y2="578.3" stroke="#000" stroke-width="0.9"/>
<line x1="460.16" y1="580.5" x2="460.16" y2="578.3" stroke="#000" stroke-width="0.9"/>
<line x1="462.45" y1="580.5" x2="462.45" y2="578.3" stroke="#000" stroke-width="0.9"/>
<line x1="285.4" y1="580.5" x2="285.4" y2="583.5" stroke="#000" stroke-width="1.1"/>
<line x1="330.17" y1="580.5" x2="330.17" y2="583.5" stroke="#000" stroke-width="1.1"/>
<line x1="374.95" y1="580.5" x2="374.95" y2="583.5" stroke="#000" stroke-width="1.1"/>
<line x1="419.73" y1="580.5" x2="419.73" y2="583.5" stroke="#000" stroke-width="1.1"/>
<line x1="464.5" y1="580.5" x2="464.5" y2="583.5" stroke="#000" stroke-width="1.1"/>
<rect x="288.2" y="552.3" width="28.5" height="26.6" fill="url(#br3)" stroke="none" stroke-width="1"/>
<ellipse cx="421.8" cy="552" rx="9.1" ry="28" fill="url(#pk2)"/>
<ellipse cx="405.7" cy="572.7" rx="8.1" ry="5.5" fill="#1e1e1e"/>
<path d="M316.7 552.3L441.9 426.1M458.6 433.6L428.8 574.8L316.7 574.8" fill="none" stroke="#000" stroke-width="1.9"/>
<text x="281.4" y="423.2" font-size="9.7" text-anchor="end">10</text>
<text x="281.4" y="449.98" font-size="9.7" text-anchor="end">1</text>
<text x="281.4" y="476.77" font-size="9.7" text-anchor="end">0.1</text>
<text x="281.4" y="503.55" font-size="9.7" text-anchor="end">0.01</text>
<text x="281.4" y="530.33" font-size="9.7" text-anchor="end">0.001</text>
<text x="281.4" y="557.12" font-size="9.7" text-anchor="end">0.0001</text>
<text x="281.4" y="583.9" font-size="9.7" text-anchor="end">1E-05</text>
<text x="284.8" y="595.2" font-size="9.3" text-anchor="middle">0.001</text>
<text x="329.57" y="595.2" font-size="9.3" text-anchor="middle">0.01</text>
<text x="374.35" y="595.2" font-size="9.3" text-anchor="middle">0.1</text>
<text x="419.12" y="595.2" font-size="9.3" text-anchor="middle">1</text>
<text x="463.9" y="595.2" font-size="9.3" text-anchor="middle">10</text>
<text x="250.8" y="499.5" font-size="9.8" text-anchor="middle" transform="rotate(-90 250.8 499.5)">NO3/Na</text>
<text x="374" y="606.5" font-size="9.8" text-anchor="middle">Cl/Na</text>
<text x="290.9" y="436.6" font-size="21">h</text>
<text x="371" y="432" font-size="10.6">Agriculture</text>
<text x="288.7" y="524.2" font-size="9.9">Carbonate &amp;</text>
<text x="290.8" y="535.8" font-size="9.9">silicate</text>
<text x="354.4" y="568" font-size="10.1">Urban</text>
<text x="440" y="528.8" font-size="9.9" transform="rotate(90 440 528.8)">Evaporite</text>
<path d="M443.7 429.89L447.6 436.91L439.8 436.91Z" fill="#f26a2a" stroke="#8a3010" stroke-width="0.6"/>
<path d="M427.9 437.79L431.8 444.81L424 444.81Z" fill="#f26a2a" stroke="#8a3010" stroke-width="0.6"/>
<path d="M432.3 453.4L436.2 457.3L432.3 461.2L428.4 457.3Z" fill="#13a040" stroke="#0a4a20" stroke-width="0.6"/>
<circle cx="437.2" cy="439.8" r="3.6" fill="#ffc90e" stroke="#7a5a00" stroke-width="0.6"/>
<circle cx="424.4" cy="444.2" r="3.6" fill="#ffc90e" stroke="#7a5a00" stroke-width="0.6"/>
<circle cx="425" cy="446.4" r="3.6" fill="#ffc90e" stroke="#7a5a00" stroke-width="0.6"/>
<circle cx="430.9" cy="455.5" r="3.6" fill="#0f6fd0" stroke="#0a3a70" stroke-width="0.6"/>
<circle cx="420" cy="465.2" r="3.6" fill="#0f6fd0" stroke="#0a3a70" stroke-width="0.6"/>
<circle cx="422.7" cy="470.9" r="3.6" fill="#0f6fd0" stroke="#0a3a70" stroke-width="0.6"/>
<circle cx="414.3" cy="492.3" r="3.6" fill="#0f6fd0" stroke="#0a3a70" stroke-width="0.6"/>
<circle cx="421.8" cy="454.7" r="3.6" fill="#d23cb0" stroke="#6a1a58" stroke-width="0.6"/>
<circle cx="428.5" cy="464.6" r="3.6" fill="#d23cb0" stroke="#6a1a58" stroke-width="0.6"/>
<circle cx="433.7" cy="480.6" r="3.6" fill="#d23cb0" stroke="#6a1a58" stroke-width="0.6"/>
<circle cx="441.9" cy="481.8" r="3.6" fill="#d23cb0" stroke="#6a1a58" stroke-width="0.6"/>
<circle cx="435.8" cy="447.1" r="3.6" fill="#5b2e0a" stroke="#2a1505" stroke-width="0.6"/>
<circle cx="442.8" cy="447.1" r="3.6" fill="#5b2e0a" stroke="#2a1505" stroke-width="0.6"/>
<circle cx="429.7" cy="451.2" r="3.6" fill="#5b2e0a" stroke="#2a1505" stroke-width="0.6"/>
<circle cx="424.4" cy="455.9" r="3.6" fill="#5b2e0a" stroke="#2a1505" stroke-width="0.6"/>
<clipPath id="gclip"><rect x="430" y="416" width="60" height="30"/></clipPath><ellipse cx="456.1" cy="426.2" rx="15.9" ry="10.4" fill="url(#gn)" clip-path="url(#gclip)"/>
<line x1="501.6" y1="555.6" x2="680.8" y2="555.6" stroke="#ebebeb" stroke-width="0.9"/>
<line x1="501.6" y1="528.5" x2="680.8" y2="528.5" stroke="#ebebeb" stroke-width="0.9"/>
<line x1="501.6" y1="501.4" x2="680.8" y2="501.4" stroke="#ebebeb" stroke-width="0.9"/>
<line x1="501.6" y1="474.3" x2="680.8" y2="474.3" stroke="#ebebeb" stroke-width="0.9"/>
<line x1="501.6" y1="447.2" x2="680.8" y2="447.2" stroke="#ebebeb" stroke-width="0.9"/>
<path d="M501.6 419.6H680.8V580.0" fill="none" stroke="#333" stroke-width="1.1"/>
<path d="M501.6 419.6V580.0H680.8" fill="none" stroke="#000" stroke-width="1.6"/>
<line x1="501.6" y1="569.15" x2="504.1" y2="569.15" stroke="#000" stroke-width="1"/>
<line x1="501.6" y1="542.05" x2="504.1" y2="542.05" stroke="#000" stroke-width="1"/>
<line x1="501.6" y1="514.95" x2="504.1" y2="514.95" stroke="#000" stroke-width="1"/>
<line x1="501.6" y1="487.85" x2="504.1" y2="487.85" stroke="#000" stroke-width="1"/>
<line x1="501.6" y1="460.75" x2="504.1" y2="460.75" stroke="#000" stroke-width="1"/>
<line x1="501.6" y1="433.65" x2="504.1" y2="433.65" stroke="#000" stroke-width="1"/>
<line x1="510.72" y1="580" x2="510.72" y2="577.5" stroke="#000" stroke-width="1"/>
<line x1="519.64" y1="580" x2="519.64" y2="577.5" stroke="#000" stroke-width="1"/>
<line x1="528.56" y1="580" x2="528.56" y2="577.5" stroke="#000" stroke-width="1"/>
<line x1="537.48" y1="580" x2="537.48" y2="577.5" stroke="#000" stroke-width="1"/>
<line x1="546.4" y1="580" x2="546.4" y2="577.5" stroke="#000" stroke-width="1"/>
<line x1="555.32" y1="580" x2="555.32" y2="577.5" stroke="#000" stroke-width="1"/>
<line x1="564.24" y1="580" x2="564.24" y2="577.5" stroke="#000" stroke-width="1"/>
<line x1="573.16" y1="580" x2="573.16" y2="577.5" stroke="#000" stroke-width="1"/>
<line x1="582.08" y1="580" x2="582.08" y2="577.5" stroke="#000" stroke-width="1"/>
<line x1="591" y1="580" x2="591" y2="577.5" stroke="#000" stroke-width="1"/>
<line x1="599.92" y1="580" x2="599.92" y2="577.5" stroke="#000" stroke-width="1"/>
<line x1="608.84" y1="580" x2="608.84" y2="577.5" stroke="#000" stroke-width="1"/>
<line x1="617.76" y1="580" x2="617.76" y2="577.5" stroke="#000" stroke-width="1"/>
<line x1="626.68" y1="580" x2="626.68" y2="577.5" stroke="#000" stroke-width="1"/>
<line x1="635.6" y1="580" x2="635.6" y2="577.5" stroke="#000" stroke-width="1"/>
<line x1="644.52" y1="580" x2="644.52" y2="577.5" stroke="#000" stroke-width="1"/>
<line x1="653.44" y1="580" x2="653.44" y2="577.5" stroke="#000" stroke-width="1"/>
<line x1="662.36" y1="580" x2="662.36" y2="577.5" stroke="#000" stroke-width="1"/>
<line x1="671.28" y1="580" x2="671.28" y2="577.5" stroke="#000" stroke-width="1"/>
<text x="497.6" y="559.1" font-size="10" text-anchor="end">2</text>
<text x="497.6" y="532" font-size="10" text-anchor="end">4</text>
<text x="497.6" y="504.9" font-size="10" text-anchor="end">6</text>
<text x="497.6" y="477.8" font-size="10" text-anchor="end">8</text>
<text x="497.6" y="450.7" font-size="10" text-anchor="end">10</text>
<text x="497.6" y="423.6" font-size="10" text-anchor="end">12</text>
<text x="501.8" y="596" font-size="10" text-anchor="middle">0</text>
<text x="519.64" y="596" font-size="10" text-anchor="middle">0.4</text>
<text x="537.48" y="596" font-size="10" text-anchor="middle">0.8</text>
<text x="555.32" y="596" font-size="10" text-anchor="middle">1.2</text>
<text x="573.16" y="596" font-size="10" text-anchor="middle">1.6</text>
<text x="591" y="596" font-size="10" text-anchor="middle">2</text>
<text x="608.84" y="596" font-size="10" text-anchor="middle">2.4</text>
<text x="626.68" y="596" font-size="10" text-anchor="middle">2.8</text>
<text x="644.52" y="596" font-size="10" text-anchor="middle">3.2</text>
<text x="662.36" y="596" font-size="10" text-anchor="middle">3.6</text>
<text x="680.2" y="596" font-size="10" text-anchor="middle">4</text>
<text x="486" y="500" font-size="10" text-anchor="middle" transform="rotate(-90 486 500)">SO<tspan font-size="7" dy="2">4</tspan><tspan dy="-2">/Na</tspan></text>
<text x="591" y="606.4" font-size="10" text-anchor="middle">NO<tspan font-size="7" dy="2">3</tspan><tspan dy="-2">/Na</tspan></text>
<text x="504.5" y="437.1" font-size="21">i</text>
<text x="516.1" y="450" font-size="10.7">Industrial activity</text>
<text x="607.9" y="534.1" font-size="10.7">Agricultural</text>
<text x="607.9" y="545.9" font-size="10.7">activity</text>
<path d="M570.4 534.09L574.3 541.11L566.5 541.11Z" fill="#f26a2a" stroke="#8a3010" stroke-width="0.6"/>
<path d="M580.2 536.29L584.1 543.31L576.3 543.31Z" fill="#f26a2a" stroke="#8a3010" stroke-width="0.6"/>
<path d="M566.8 543.09L570.7 550.11L562.9 550.11Z" fill="#f26a2a" stroke="#8a3010" stroke-width="0.6"/>
<path d="M641.2 490.19L645.1 497.21L637.3 497.21Z" fill="#f26a2a" stroke="#8a3010" stroke-width="0.6"/>
<path d="M518.7 566.5L522.6 570.4L518.7 574.3L514.8 570.4Z" fill="#13a040" stroke="#0a4a20" stroke-width="0.6"/>
<path d="M522.7 565.5L526.6 569.4L522.7 573.3L518.8 569.4Z" fill="#13a040" stroke="#0a4a20" stroke-width="0.6"/>
<path d="M525.9 567.8L529.8 571.7L525.9 575.6L522 571.7Z" fill="#13a040" stroke="#0a4a20" stroke-width="0.6"/>
<circle cx="548.4" cy="559.9" r="3.6" fill="#ffc90e" stroke="#7a5a00" stroke-width="0.6"/>
<circle cx="556.8" cy="562.1" r="3.6" fill="#ffc90e" stroke="#7a5a00" stroke-width="0.6"/>
<circle cx="578.9" cy="545" r="3.6" fill="#ffc90e" stroke="#7a5a00" stroke-width="0.6"/>
<circle cx="523.4" cy="434.9" r="3.6" fill="#0f6fd0" stroke="#0a3a70" stroke-width="0.6"/>
<circle cx="507.1" cy="489.2" r="3.6" fill="#0f6fd0" stroke="#0a3a70" stroke-width="0.6"/>
<circle cx="511.2" cy="491.4" r="3.6" fill="#0f6fd0" stroke="#0a3a70" stroke-width="0.6"/>
<circle cx="502.3" cy="538.5" r="3.6" fill="#0f6fd0" stroke="#0a3a70" stroke-width="0.6"/>
<circle cx="503.3" cy="489.7" r="3.6" fill="#d23cb0" stroke="#6a1a58" stroke-width="0.6"/>
<circle cx="511.4" cy="520.9" r="3.6" fill="#d23cb0" stroke="#6a1a58" stroke-width="0.6"/>
<circle cx="504.5" cy="526.9" r="3.6" fill="#d23cb0" stroke="#6a1a58" stroke-width="0.6"/>
<circle cx="523.6" cy="526.3" r="3.6" fill="#d23cb0" stroke="#6a1a58" stroke-width="0.6"/>
<circle cx="543.9" cy="459" r="3.6" fill="#5b2e0a" stroke="#2a1505" stroke-width="0.6"/>
<circle cx="544.1" cy="505.1" r="3.6" fill="#5b2e0a" stroke="#2a1505" stroke-width="0.6"/>
<circle cx="532.1" cy="530.5" r="3.6" fill="#5b2e0a" stroke="#2a1505" stroke-width="0.6"/>
<circle cx="521.7" cy="538.5" r="3.6" fill="#5b2e0a" stroke="#2a1505" stroke-width="0.6"/>
<rect x="526.2" y="464.5" width="3" height="82" fill="#ff0000" stroke="none" stroke-width="1"/>
<path d="M527.7 456.9L532.1 465L523.3 465Z" fill="#ff0000"/>
<rect x="561.7" y="552.6" width="76.5" height="2.8" fill="#ff0000" stroke="none" stroke-width="1"/>
<path d="M645.5 554L637.7 549.8L637.7 558.2Z" fill="#ff0000"/>
</svg>
</body></html>
